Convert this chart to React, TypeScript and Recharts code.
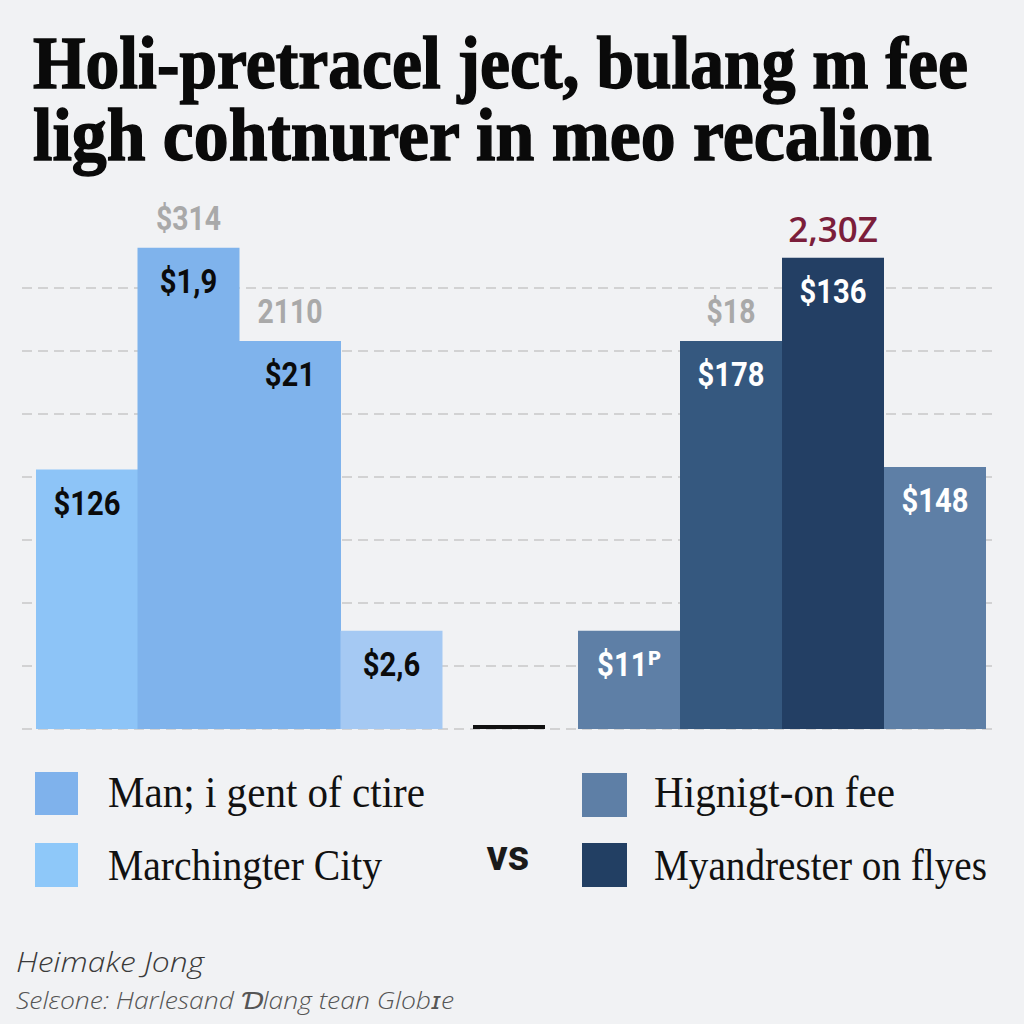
import React from 'react';
import { BarChart, Bar, XAxis, YAxis, CartesianGrid, Cell, LabelList, ReferenceArea } from 'recharts';

// ---------- data ----------
const slots = ['1', '2', '3', '4'];
const cityValues = [103, 191, 154, 39];
const feeValues = [39, 154, 187, 104];
const cityInnerLabels = ['$126', '$1,9', '$21', '$2,6'];
const cityTopLabels = ['', '$314', '2110', ''];
const feeInnerLabels = ['$11ᴾ', '$178', '$136', '$148'];
const feeTopLabels = ['', '$18', '2,30Z', ''];
const yTicks = [0, 25, 50, 75, 100, 125, 150, 175];

const titleLines = ['Holi-pretracel ject, bulang m fee', 'ligh cohtnurer in meo recalion'];
const legendLeft = ['Man; i gent of ctire', 'Marchingter City'];
const legendRight = ['Hignigt-on fee', 'Myandrester on flyes'];
const vsLabel = 'vs';
const footerAuthor = 'Heimake Jong';
const footerSource = 'Selεone: Harlesand Ɗlang tean Globɪe';

// ---------- styles ----------
const BG = '#F1F2F4';
const CITY_FILLS = ['#8DC4F7', '#7FB3EC', '#7FB3EC', '#A5C9F3'];
const FEE_FILLS = ['#5E7FA6', '#35587F', '#233F64', '#5E7FA6'];
const LEGEND_LEFT_FILLS = ['#7FB2EC', '#8EC8F9'];
const LEGEND_RIGHT_FILLS = ['#5E7FA6', '#223F63'];
const DIVIDER_THICKNESS = 1.6; // in value units

const data = slots.map((slot, i) => ({
  slot,
  city: cityValues[i],
  fee: feeValues[i],
  cityInner: cityInnerLabels[i],
  cityTop: cityTopLabels[i],
  feeInner: feeInnerLabels[i],
  feeTop: feeTopLabels[i],
}));

const makeInnerLabel = (color: string) => (props: any) => {
  const { x, y, width, value } = props;
  if (!value) return null;
  const cx = Number(x) + Number(width) / 2;
  const cy = Number(y) + 34;
  return (
    <g transform={`translate(${cx},${cy}) scale(0.86,1)`}>
      <text
        x={0}
        y={0}
        textAnchor="middle"
        dominantBaseline="central"
        fontFamily="Roboto, 'DejaVu Sans', sans-serif"
        fontWeight={700}
        fontSize={34}
        fill={color}
      >
        {value}
      </text>
    </g>
  );
};

const makeTopLabel = (accentIndex: number) => (props: any) => {
  const { x, y, width, value, index } = props;
  if (!value) return null;
  const cx = Number(x) + Number(width) / 2;
  const cy = Number(y) - 29;
  if (index === accentIndex) {
    return (
      <text
        x={cx}
        y={cy}
        textAnchor="middle"
        dominantBaseline="central"
        fontFamily="'Open Sans', Roboto, sans-serif"
        fontWeight={600}
        fontSize={35}
        fill="#7B1E3B"
      >
        {value}
      </text>
    );
  }
  return (
    <g transform={`translate(${cx},${cy}) scale(0.86,1)`}>
      <text
        x={0}
        y={0}
        textAnchor="middle"
        dominantBaseline="central"
        fontFamily="Roboto, 'DejaVu Sans', sans-serif"
        fontWeight={700}
        fontSize={33}
        fill="#A9A9A9"
      >
        {value}
      </text>
    </g>
  );
};

const CityInner = makeInnerLabel('#0B0B0B');
const FeeInner = makeInnerLabel('#FFFFFF');
const CityTop = makeTopLabel(-1);
const FeeTop = makeTopLabel(2);

const gridGenerator = (args: any) => {
  const scale = args?.yAxis?.scale;
  if (scale && typeof scale === 'function') {
    return yTicks.map((t) => scale(t));
  }
  if (scale && typeof scale.map === 'function') {
    return yTicks.map((t) => scale.map(t));
  }
  return [];
};

const dividerKey = () => 0;

export default function App() {
  return (
    <div
      style={{
        position: 'absolute',
        left: 0,
        top: 0,
        width: 1024,
        height: 1024,
        background: BG,
        overflow: 'hidden',
      }}
    >
      <div style={{ position: 'absolute', left: 0, top: 0 }}>
        <BarChart
          width={1024}
          height={760}
          data={data}
          margin={{ top: 225, right: 29, bottom: 31, left: 22 }}
          barCategoryGap={0}
          barGap={0}
        >
          <CartesianGrid
            vertical={false}
            stroke="#C8C8C8"
            strokeWidth={1.5}
            strokeDasharray="10 6"
            horizontalCoordinatesGenerator={gridGenerator}
          />
          <XAxis xAxisId="city" dataKey="slot" hide padding={{ left: 14, right: 553 }} />
          <XAxis xAxisId="fee" dataKey="slot" hide padding={{ left: 556, right: 9 }} />
          <XAxis
            xAxisId="divider"
            type="number"
            dataKey={dividerKey}
            domain={[0, 1]}
            allowDataOverflow
            hide
            padding={{ left: 451, right: 450 }}
          />
          <YAxis hide domain={[0, 200]} ticks={yTicks} />
          <ReferenceArea
            xAxisId="divider"
            x1={0}
            x2={1}
            y1={0}
            y2={DIVIDER_THICKNESS}
            fill="#111111"
            fillOpacity={1}
            stroke="none"
          />
          <Bar xAxisId="city" dataKey="city" isAnimationActive={false}>
            {data.map((d, i) => (
              <Cell key={'c' + d.slot} fill={CITY_FILLS[i]} />
            ))}
            <LabelList dataKey="cityInner" content={CityInner} />
            <LabelList dataKey="cityTop" content={CityTop} />
          </Bar>
          <Bar xAxisId="fee" dataKey="fee" isAnimationActive={false}>
            {data.map((d, i) => (
              <Cell key={'f' + d.slot} fill={FEE_FILLS[i]} />
            ))}
            <LabelList dataKey="feeInner" content={FeeInner} />
            <LabelList dataKey="feeTop" content={FeeTop} />
          </Bar>
        </BarChart>
      </div>

      <svg
        width={1024}
        height={1024}
        style={{ position: 'absolute', left: 0, top: 0, pointerEvents: 'none' }}
      >
        {/* title */}
        <text
          x={33}
          y={88}
          fontFamily="'Liberation Serif', 'DejaVu Serif', serif"
          fontWeight={700}
          fontSize={75}
          fill="#0A0A0A"
          stroke="#0A0A0A"
          strokeWidth={1.5}
          textLength={935}
          lengthAdjust="spacingAndGlyphs"
        >
          {titleLines[0]}
        </text>
        <text
          x={33}
          y={160}
          fontFamily="'Liberation Serif', 'DejaVu Serif', serif"
          fontWeight={700}
          fontSize={75}
          fill="#0A0A0A"
          stroke="#0A0A0A"
          strokeWidth={1.5}
          textLength={899}
          lengthAdjust="spacingAndGlyphs"
        >
          {titleLines[1]}
        </text>

        {/* legend */}
        <rect x={35} y={772} width={43} height={43} fill={LEGEND_LEFT_FILLS[0]} />
        <rect x={35} y={843} width={43} height={44} fill={LEGEND_LEFT_FILLS[1]} />
        <rect x={582} y={773} width={45} height={44} fill={LEGEND_RIGHT_FILLS[0]} />
        <rect x={582} y={843} width={45} height={44} fill={LEGEND_RIGHT_FILLS[1]} />
        <text x={108} y={807} fontFamily="'Liberation Serif', serif" fontSize={44} fill="#111"
          textLength={317} lengthAdjust="spacingAndGlyphs">{legendLeft[0]}</text>
        <text x={108} y={880} fontFamily="'Liberation Serif', serif" fontSize={44} fill="#111"
          textLength={274} lengthAdjust="spacingAndGlyphs">{legendLeft[1]}</text>
        <text x={654} y={807} fontFamily="'Liberation Serif', serif" fontSize={44} fill="#111"
          textLength={241} lengthAdjust="spacingAndGlyphs">{legendRight[0]}</text>
        <text x={654} y={880} fontFamily="'Liberation Serif', serif" fontSize={44} fill="#111"
          textLength={333} lengthAdjust="spacingAndGlyphs">{legendRight[1]}</text>
        <text x={508} y={870} textAnchor="middle" fontFamily="Roboto, 'DejaVu Sans', sans-serif"
          fontWeight={700} fontSize={42} fill="#1A1A1A">{vsLabel}</text>

        {/* footer */}
        <text x={16} y={972} fontFamily="'Open Sans', 'DejaVu Sans', sans-serif" fontStyle="italic"
          fontWeight={300} fontSize={28} fill="#3A3A3A" textLength={188}
          lengthAdjust="spacingAndGlyphs">{footerAuthor}</text>
        <text x={16} y={1009} fontFamily="'Open Sans', 'DejaVu Sans', sans-serif" fontStyle="italic"
          fontWeight={300} fontSize={23} fill="#555555" textLength={438}
          lengthAdjust="spacingAndGlyphs">{footerSource}</text>
      </svg>
    </div>
  );
}
